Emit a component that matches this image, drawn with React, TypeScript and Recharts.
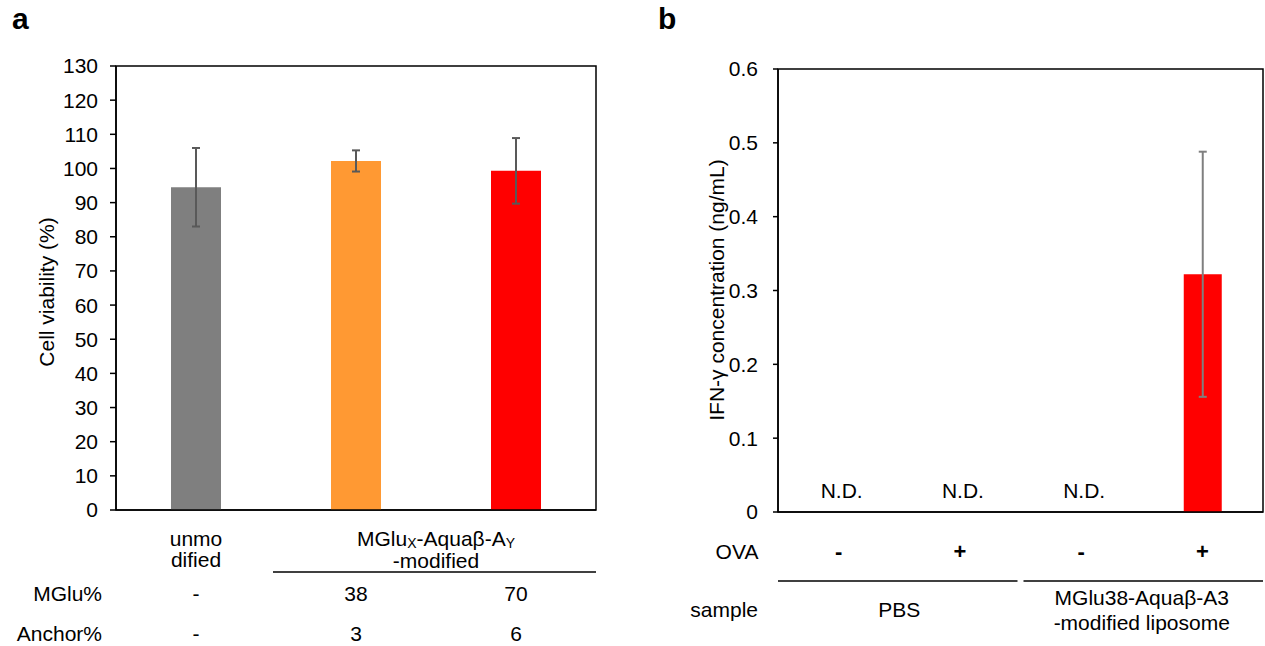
import {
  BarChart,
  Bar,
  Cell,
  XAxis,
  YAxis,
  ErrorBar,
  ReferenceArea,
} from "recharts";

// panel a: cell viability
const cellGroups = ["unmodified", "MGlu38-A3", "MGlu70-A6"];
const cellViability = [94.5, 102.2, 99.3];
const cellSd = [11.5, 3.1, 9.6];
const cellColors = ["#7f7f7f", "#ff9933", "#ff0000"];
const mgluPct = ["-", "38", "70"];
const anchorPct = ["-", "3", "6"];
const cellTicks = [0, 10, 20, 30, 40, 50, 60, 70, 80, 90, 100, 110, 120, 130];

// panel b: IFN-gamma
const ifnGroups = ["PBS -", "PBS +", "MGlu38 -", "MGlu38 +"];
const ovaSigns = ["-", "+", "-", "+"];
const ifnDetected = [false, false, false, true];
const ifnValues = [0, 0, 0, 0.322];
const ifnSd = [null, null, null, 0.166];
const ifnColors = ["#ff0000", "#ff0000", "#ff0000", "#ff0000"];
const ifnTicks = [0, 0.1, 0.2, 0.3, 0.4, 0.5, 0.6];

const FONT = "'Liberation Sans', Arial, sans-serif";
const FS = 21;

const cellData = cellGroups.map((g, i) => ({
  group: g,
  value: cellViability[i],
  sd: cellSd[i],
}));

const ifnData = ifnGroups.map((g, i) => ({
  group: g,
  value: ifnValues[i],
  sd: ifnSd[i],
}));

// eslint-disable-next-line @typescript-eslint/no-explicit-any
function CellTick(props: any) {
  const { x, y, payload } = props;
  const i = payload.index;
  const band = 160;
  return (
    <g fontSize={FS} fill="#000" textAnchor="middle">
      {i === 0 && (
        <>
          <text x={x} y={y + 28} dominantBaseline="central">unmo</text>
          <text x={x} y={y + 49} dominantBaseline="central">dified</text>
          <text x={102} y={y + 83} textAnchor="end" dominantBaseline="central">
            MGlu%
          </text>
          <text x={102} y={y + 123} textAnchor="end" dominantBaseline="central">
            Anchor%
          </text>
        </>
      )}
      {i === 2 && (
        <>
          <text x={x - band / 2} y={y + 28} dominantBaseline="central">
            MGlu
            <tspan fontSize={14} dy={5}>X</tspan>
            <tspan dy={-5}>-Aquaβ-A</tspan>
            <tspan fontSize={14} dy={5}>Y</tspan>
          </text>
          <text x={x - band / 2} y={y + 50} dominantBaseline="central">
            -modified
          </text>
          <line
            x1={x - band - 83}
            x2={x + band / 2}
            y1={y + 62}
            y2={y + 62}
            stroke="#000"
            strokeWidth={1.5}
          />
        </>
      )}
      <text x={x} y={y + 83} dominantBaseline="central">{mgluPct[i]}</text>
      <text x={x} y={y + 123} dominantBaseline="central">{anchorPct[i]}</text>
    </g>
  );
}

// eslint-disable-next-line @typescript-eslint/no-explicit-any
function IfnTick(props: any) {
  const { x, y, payload } = props;
  const i = payload.index;
  const band = 121.25;
  return (
    <g fontSize={FS} fill="#000" textAnchor="middle">
      {!ifnDetected[i] && (
        <text x={x + 3} y={y - 22} dominantBaseline="central">N.D.</text>
      )}
      {i === 0 && (
        <>
          <text x={97} y={y + 39} dominantBaseline="central">OVA</text>
          <text x={118} y={y + 97} textAnchor="end" dominantBaseline="central">
            sample
          </text>
        </>
      )}
      {i === 1 && (
        <>
          <line
            x1={x - 1.5 * band}
            x2={x + band / 2 - 3}
            y1={y + 69}
            y2={y + 69}
            stroke="#000"
            strokeWidth={1.5}
          />
          <text x={x - band / 2} y={y + 97} dominantBaseline="central">PBS</text>
        </>
      )}
      {i === 3 && (
        <>
          <line
            x1={x - 1.5 * band + 3}
            x2={x + band / 2}
            y1={y + 69}
            y2={y + 69}
            stroke="#000"
            strokeWidth={1.5}
          />
          <text x={x - band / 2} y={y + 85} dominantBaseline="central">
            MGlu38-Aquaβ-A3
          </text>
          <text x={x - band / 2} y={y + 110} dominantBaseline="central">
            -modified liposome
          </text>
        </>
      )}
      <text
        x={x}
        y={y + 39}
        fontSize={22}
        fontWeight="bold"
        dominantBaseline="central"
      >
        {ovaSigns[i]}
      </text>
    </g>
  );
}

export default function App() {
  return (
    <div
      style={{
        position: "absolute",
        left: 0,
        top: 0,
        width: 1265,
        height: 646,
        background: "#fff",
        fontFamily: FONT,
      }}
    >
      <div
        style={{
          position: "absolute",
          left: 12,
          top: 2,
          fontSize: 30,
          fontWeight: "bold",
        }}
      >
        a
      </div>
      <div
        style={{
          position: "absolute",
          left: 658,
          top: 2,
          fontSize: 30,
          fontWeight: "bold",
        }}
      >
        b
      </div>

      <div style={{ position: "absolute", left: 0, top: 0 }}>
        <BarChart
          width={640}
          height={646}
          data={cellData}
          margin={{ top: 66, right: 44, left: 0, bottom: 0 }}
          barSize={50}
        >
          <XAxis
            dataKey="group"
            height={136}
            axisLine={{ stroke: "#000", strokeWidth: 1.5 }}
            tickLine={false}
            tickSize={0}
            tickMargin={0}
            interval={0}
            tick={<CellTick />}
          />
          <YAxis
            width={116}
            domain={[0, 130]}
            ticks={cellTicks}
            interval={0}
            tickSize={6}
            tickMargin={12}
            axisLine={{ stroke: "#000", strokeWidth: 1.5 }}
            tickLine={{ stroke: "#000", strokeWidth: 1.5 }}
            tick={{ fill: "#000", fontSize: FS }}
          />
          <ReferenceArea
            y1={0}
            y2={130}
            fill="none"
            stroke="#000"
            strokeWidth={1.5}
          />
          <Bar dataKey="value" isAnimationActive={false}>
            {cellData.map((d, i) => (
              <Cell key={d.group} fill={cellColors[i]} />
            ))}
            <ErrorBar
              dataKey="sd"
              direction="y"
              width={4}
              stroke="#595959"
              strokeWidth={2}
              isAnimationActive={false}
            />
          </Bar>
          <text
            x={46}
            y={292}
            transform="rotate(-90 46 292)"
            fontSize={FS}
            fill="#000"
            textAnchor="middle"
            dominantBaseline="central"
          >
            Cell viability (%)
          </text>
        </BarChart>
      </div>

      <div style={{ position: "absolute", left: 640, top: 0 }}>
        <BarChart
          width={625}
          height={646}
          data={ifnData}
          margin={{ top: 69, right: 2, left: 0, bottom: 0 }}
          barSize={38}
        >
          <XAxis
            dataKey="group"
            height={134}
            axisLine={{ stroke: "#000", strokeWidth: 1.5 }}
            tickLine={false}
            tickSize={0}
            tickMargin={0}
            interval={0}
            tick={<IfnTick />}
          />
          <YAxis
            width={138}
            domain={[0, 0.6]}
            ticks={ifnTicks}
            interval={0}
            tickSize={5}
            tickMargin={15}
            axisLine={{ stroke: "#000", strokeWidth: 1.5 }}
            tickLine={{ stroke: "#000", strokeWidth: 1.5 }}
            tick={{ fill: "#000", fontSize: FS }}
          />
          <ReferenceArea
            y1={0}
            y2={0.6}
            fill="none"
            stroke="#000"
            strokeWidth={1.5}
          />
          <Bar dataKey="value" isAnimationActive={false}>
            {ifnData.map((d, i) => (
              <Cell key={d.group} fill={ifnColors[i]} />
            ))}
            <ErrorBar
              dataKey="sd"
              direction="y"
              width={4}
              stroke="#7f7f7f"
              strokeWidth={2}
              isAnimationActive={false}
            />
          </Bar>
          <text
            x={76}
            y={290}
            transform="rotate(-90 76 290)"
            fontSize={FS}
            fill="#000"
            textAnchor="middle"
            dominantBaseline="central"
          >
            IFN-γ concentration (ng/mL)
          </text>
        </BarChart>
      </div>
    </div>
  );
}
